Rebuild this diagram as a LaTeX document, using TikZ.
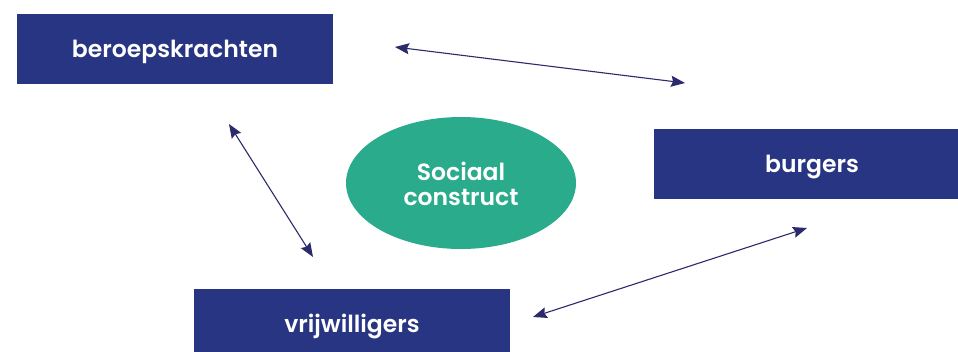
\documentclass[tikz,border=0pt]{standalone}
\usepackage{fontspec}
\setmainfont{Poppins}[BoldFont={Poppins SemiBold}]
\usetikzlibrary{arrows.meta}
\definecolor{navy}{HTML}{283582}
\definecolor{teal}{HTML}{2AAB8B}
\definecolor{arrowcol}{HTML}{2B2A6B}
\begin{document}
\begin{tikzpicture}[x=1pt,y=-1pt,
  lbl/.style={text=white,font=\fontsize{23.5}{25}\selectfont\bfseries,inner sep=0pt},
  box/.style={lbl,text height=17pt,text depth=0pt,fill=navy,draw=none,minimum width=316pt,minimum height=70pt},
  link/.style={draw=arrowcol,line width=1.1pt,{Stealth[length=14pt,width=11pt,inset=2pt]}-{Stealth[length=14pt,width=11pt,inset=2pt]}}]
\useasboundingbox (0,0) rectangle (958,351);
\node[box] (ber) at (175,49) {beroepskrachten};
\node[box] (bur) at (812,164) {burgers};
\node[box] (vri) at (352,324) {vrijwilligers};
\draw[fill=teal,draw=none] (461,183) ellipse [x radius=115, y radius=66];
\node[lbl,align=center,anchor=base] (soc) at (461,205) {Sociaal\\construct};
\coordinate (a1) at (395,47);
\coordinate (b1) at (685,83);
\coordinate (a2) at (229,124);
\coordinate (b2) at (313,257);
\coordinate (a3) at (533,317);
\coordinate (b3) at (807,228);
\draw[link] (a1) -- (b1);
\draw[link] (a2) -- (b2);
\draw[link] (a3) -- (b3);
\end{tikzpicture}
\end{document}
